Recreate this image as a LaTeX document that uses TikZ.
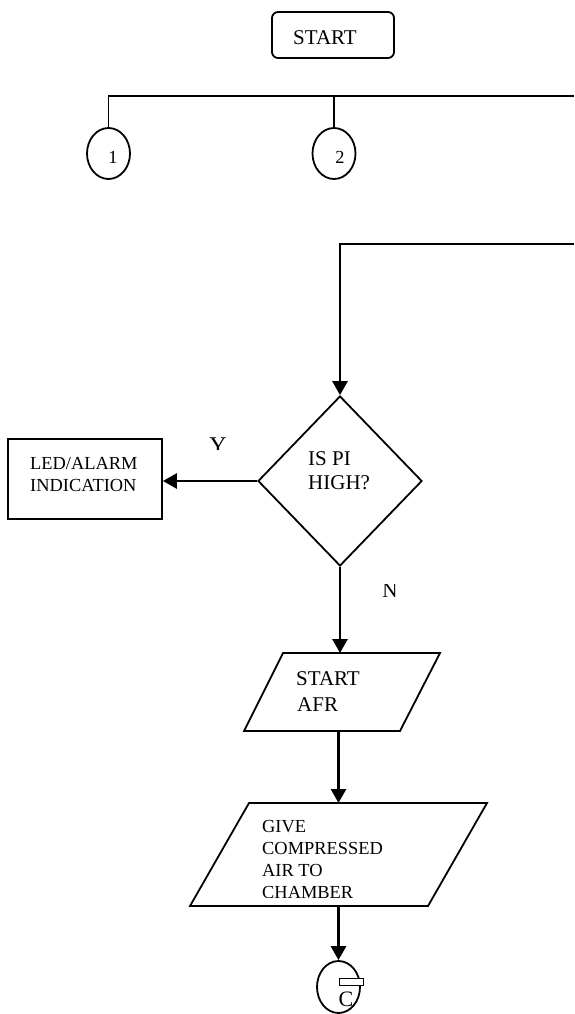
\documentclass[tikz,border=0pt]{standalone}
\usepackage{fontspec}
\setmainfont{Liberation Serif}
\usetikzlibrary{arrows.meta,shapes.geometric}
\begin{document}
\begin{tikzpicture}[x=1pt,y=-1pt,
  shp/.style={draw,line width=1.8pt},
  bus/.style={line width=1.8pt},
  loop/.style={line width=2.8pt},
  flow/.style={line width=2.8pt,-{Triangle[length=14pt,width=15pt]}},
  big/.style={font=\fontsize{21}{24}\selectfont, inner sep=0pt},
  sml/.style={font=\fontsize{18.4}{22}\selectfont, inner sep=0pt},
  conn/.style={shp, ellipse, minimum width=43pt, minimum height=51pt, inner sep=0pt},
]
\useasboundingbox (0,0) rectangle (574,1014);
\clip (0,0) rectangle (574,1014);

% start
\node[shp, rounded corners=6pt, minimum width=122pt, minimum height=46pt] (start) at (333,35) {};
\node[big, anchor=base west] (startT) at (293,45) {START};

% connectors 1 and 2 on the bus
\node[conn] (c1) at (108.5,153.5) {};
\node[sml, anchor=base] (c1T) at (113,164) {1};
\node[conn] (c2) at (334,153.5) {};
\node[sml, anchor=base] (c2T) at (340,164) {2};
\coordinate (busR) at (574,96);
\draw[bus] (c1.north) |- (busR);
\draw[bus] (c2.north) -- (c2.north |- busR);

% decision
\coordinate (loopR) at (574,244);
\node[shp, diamond, minimum width=164pt, minimum height=170pt, inner sep=0pt] (dia) at (340,481) {};
\node[big, anchor=base west] (diaT1) at (308,465) {IS PI};
\node[big, anchor=base west] (diaT2) at (308,489) {HIGH?};
\draw[flow] (loopR) -| (dia.north);

% alarm box
\node[shp, minimum width=154pt, minimum height=80pt] (led) at (85,479) {};
\node[sml, anchor=base west] (ledT1) at (30,469) {LED/ALARM};
\node[sml, anchor=base west] (ledT2) at (30,491) {INDICATION};
\draw[flow] (dia.west) -- (dia.west -| led.east);

\begin{scope}
  \clip (190,420) rectangle (240,449);
  \node[font=\fontsize{24}{26}\selectfont, inner sep=0pt, anchor=north] (yesT) at (218,438) {Y};
\end{scope}
\begin{scope}
  \clip (370,584) rectangle (410,610);
  \node[big, anchor=base] (noT) at (390,597) {N};
\end{scope}

% start AFR
\draw[shp] (283,653) -- (440,653) -- (400,731) -- (244,731) -- cycle;
\coordinate (p1in) at (340,653);
\coordinate (p1out) at (338.5,731);
\node[big, anchor=base west] (p1T1) at (296,685) {START};
\node[big, anchor=base west] (p1T2) at (297,711) {AFR};
\draw[flow] (dia.south) -- (dia.south |- p1in);

% give compressed air
\draw[shp] (249,803) -- (487,803) -- (428,906) -- (190,906) -- cycle;
\coordinate (p2in) at (338.5,803);
\coordinate (p2out) at (338.5,906);
\node[sml, anchor=base west] (p2T1) at (262,832) {GIVE};
\node[sml, anchor=base west] (p2T2) at (262,854) {COMPRESSED};
\node[sml, anchor=base west] (p2T3) at (262,876) {AIR TO};
\begin{scope}
  \clip (200,880) rectangle (480,897.5);
  \node[sml, anchor=base west] (p2T4) at (262,898) {CHAMBER};
\end{scope}
\draw[flow] (p1out) -- (p2in);

% connector C
\node[conn, minimum height=52pt] (c3) at (338.5,987) {};
\draw[flow] (p2out) -- (c3.north);
\node[draw, fill=white, line width=0.6pt, minimum width=24pt, minimum height=7pt, inner sep=0pt] (c3box) at (351,981.5) {};
\begin{scope}
  \clip (320,960) rectangle (370,1006);
  \node[font=\fontsize{22}{24}\selectfont, inner sep=0pt, anchor=north] (c3T) at (346,992) {C};
\end{scope}
\end{tikzpicture}
\end{document}
